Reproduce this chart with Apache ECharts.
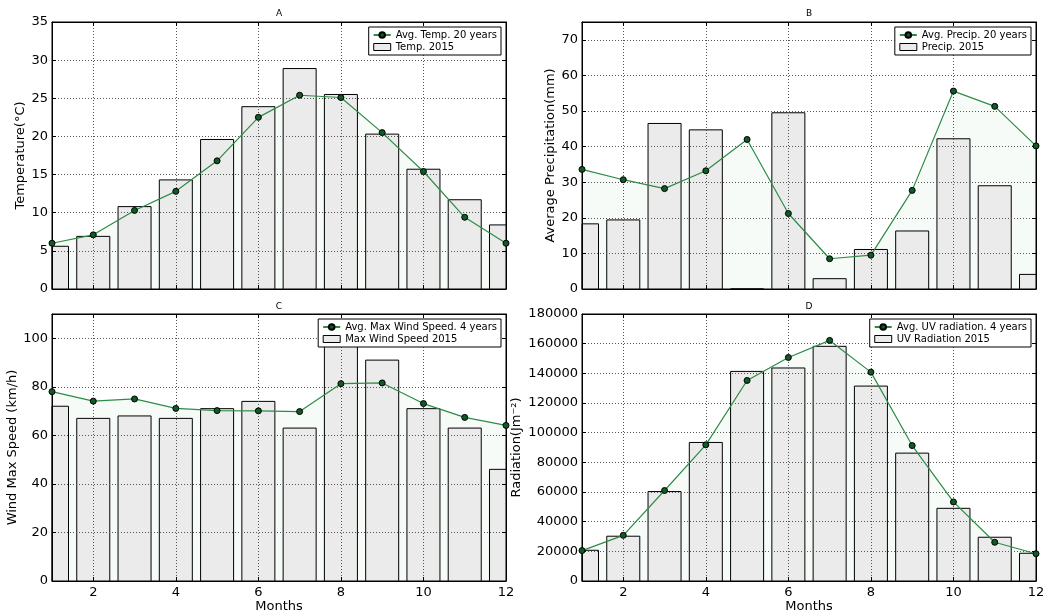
<!DOCTYPE html>
<html><head><meta charset="utf-8">
<script src="https://cdn.jsdelivr.net/npm/echarts@6/dist/echarts.min.js"></script>
<style>html,body{margin:0;padding:0;background:#fff}#c{width:1048px;height:616px}</style>
</head><body><div id="c"></div>
<script>
const months = [1,2,3,4,5,6,7,8,9,10,11,12];
const xTicks = [2,4,6,8,10,12];
const panelTitles = ['A','B','C','D'];

const tempAvg  = [6.0,7.1,10.3,12.8,16.8,22.5,25.4,25.1,20.5,15.4,9.4,6.0];
const temp2015 = [5.6,6.9,10.8,14.3,19.6,23.9,28.9,25.5,20.3,15.7,11.7,8.4];

const precipAvg  = [33.6,30.7,28.2,33.2,42.0,21.2,8.5,9.5,27.7,55.6,51.3,40.2];
const precip2015 = [18.3,19.4,46.5,44.7,0,49.5,2.9,11.1,16.3,42.2,29.0,4.1];

const windAvg  = [78.0,74.1,75.0,71.1,70.2,70.1,69.8,81.3,81.6,73.1,67.4,64.1];
const wind2015 = [72,67,68,67,71,74,63,100,91,71,63,46];

const uvAvg  = [20500,30800,61000,91800,135200,150700,162200,140800,91300,53300,26100,18400];
const uv2015 = [20700,30200,60300,93400,141300,143600,158200,131400,86200,49000,29500,18700];

const lineNames = ['Avg. Temp. 20 years','Avg. Precip. 20 years','Avg. Max Wind Speed. 4 years','Avg. UV radiation. 4 years'];
const barNames  = ['Temp. 2015','Precip. 2015','Max Wind Speed 2015','UV Radiation 2015'];
const yNames    = ['Temperature(°C)','Average Precipitation(mm)','Wind Max Speed (km/h)','Radiation(Jm⁻²)'];
const yMax      = [35,75,110,180000];
const yStep     = [5,10,20,20000];

const avgSets = [tempAvg, precipAvg, windAvg, uvAvg];
const barSets = [temp2015, precip2015, wind2015, uv2015];

const FONT = 'DejaVu Sans';
const BAR_HALF = 0.4;   // bar half-width in month units (matplotlib width 0.8)
const grids = [
  {left:52, right:542, top:22, bottom:327},
  {left:582, right:12, top:22, bottom:327},
  {left:52, right:542, top:314, bottom:35},
  {left:582, right:12, top:314, bottom:35}
];
const yNameGap = [22, 19, 28, 59];
const legendPos = [
  {right:547, top:27},{right:17, top:27},{right:547, top:319},{right:17, top:319}
];
const titlePos = [
  {left:279, top:9},{left:809, top:9},{left:279, top:302},{left:809, top:302}
];

const pair = arr => arr.map((v,i)=>[months[i], v]);

function renderBar(params, api){
  const x = api.value(0), y = api.value(1);
  const p0 = api.coord([x - BAR_HALF, y]);
  const p1 = api.coord([x + BAR_HALF, 0]);
  const rect = {x:p0[0], y:p0[1], width:p1[0]-p0[0], height:p1[1]-p0[1]};
  const cs = params.coordSys;
  const clipped = echarts.graphic.clipRectByRect(rect, {x:cs.x, y:cs.y, width:cs.width, height:cs.height});
  if (!clipped) return null;
  return {type:'rect', shape:clipped, style:{fill:'#ebebeb', stroke:'#000', lineWidth:1}};
}

const option = {
  animation:false,
  backgroundColor:'#fff',
  textStyle:{fontFamily:FONT},
  title: panelTitles.map((t,i)=>({text:t, left:titlePos[i].left, top:titlePos[i].top, textAlign:'center',
      textStyle:{fontSize:9, fontWeight:'normal', color:'#000', fontFamily:FONT}, padding:0})),
  grid: grids.map(g=>Object.assign({show:true, borderColor:'#000', borderWidth:1, backgroundColor:'transparent'}, g)),
  legend: panelTitles.map((t,i)=>({
    data:[{name:lineNames[i]},
          {name:barNames[i], icon:'rect', itemStyle:{color:'#ebebeb', borderColor:'#000', borderWidth:1}}],
    orient:'vertical', right:legendPos[i].right, top:legendPos[i].top,
    backgroundColor:'#fff', borderColor:'#000', borderWidth:1, borderRadius:0,
    padding:[3,4,3,4], itemGap:2, itemWidth:17, itemHeight:7, itemTextGap:8,
    textStyle:{fontSize:10, color:'#000', fontFamily:FONT}, z:20
  })),
  xAxis: [],
  yAxis: [],
  series: []
};

for (let i=0;i<4;i++){
  const bottomRow = i>=2;
  option.xAxis.push({
    gridIndex:i, type:'value', min:1, max:12, position:'bottom', z:4,
    axisLine:{show:true, onZero:false, lineStyle:{color:'#000', width:1}},
    axisTick:{show:true, inside:true, length:4, customValues:xTicks, lineStyle:{color:'#000'}},
    axisLabel:{show:bottomRow, customValues:xTicks, fontSize:13, color:'#000', margin:5, fontFamily:FONT},
    splitLine:{show:true, lineStyle:{color:'#555', type:[1,2], width:1}},
    name: bottomRow ? 'Months' : '', nameLocation:'middle', nameGap:15,
    nameTextStyle:{fontSize:13, color:'#000', fontFamily:FONT}
  });
  option.yAxis.push({
    gridIndex:i, type:'value', min:0, max:yMax[i], interval:yStep[i], position:'left', z:4,
    axisLine:{show:true, onZero:false, lineStyle:{color:'#000', width:1}},
    axisTick:{show:true, inside:true, length:4, lineStyle:{color:'#000'}},
    axisLabel:{fontSize:13, color:'#000', margin:4, fontFamily:FONT, showMaxLabel: (yMax[i] % yStep[i] === 0),
      formatter: v => String(v)},
    splitLine:{show:true, lineStyle:{color:'#555', type:[1,2], width:1}},
    name: yNames[i], nameLocation:'middle', nameGap:yNameGap[i],
    nameTextStyle:{fontSize:13, color:'#000', fontFamily:FONT}
  });
}
for (let i=0;i<4;i++){
  option.xAxis.push({
    gridIndex:i, type:'value', min:1, max:12, position:'top', z:4,
    axisLine:{show:true, onZero:false, lineStyle:{color:'#000'}},
    axisTick:{show:true, inside:true, length:4, customValues:xTicks, lineStyle:{color:'#000'}},
    axisLabel:{show:false, customValues:xTicks}, splitLine:{show:false}
  });
  option.yAxis.push({
    gridIndex:i, type:'value', min:0, max:yMax[i], interval:yStep[i], position:'right', z:4,
    axisLine:{show:true, onZero:false, lineStyle:{color:'#000'}},
    axisTick:{show:true, inside:true, length:4, lineStyle:{color:'#000'}},
    axisLabel:{show:false}, splitLine:{show:false}
  });
}
for (let i=0;i<4;i++){
  option.series.push({
    type:'line', name:'fill'+i, xAxisIndex:i, yAxisIndex:i, data:pair(avgSets[i]),
    symbol:'none', lineStyle:{width:0}, areaStyle:{color:'rgba(60,170,90,0.06)'}, z:1, silent:true
  });
  option.series.push({
    type:'custom', name:barNames[i], xAxisIndex:i, yAxisIndex:i, data:pair(barSets[i]),
    encode:{x:0, y:1}, renderItem:renderBar,
    itemStyle:{color:'#ebebeb', borderColor:'#000', borderWidth:1}, z:2, silent:true
  });
  option.series.push({
    type:'line', name:lineNames[i], xAxisIndex:i, yAxisIndex:i, data:pair(avgSets[i]),
    symbol:'circle', symbolSize:6, showSymbol:true,
    lineStyle:{color:'#2e8b47', width:1.2},
    itemStyle:{color:'#0f5a25', borderColor:'#000', borderWidth:1}, z:5
  });
}

const chart = echarts.init(document.getElementById('c'), null, {renderer:'canvas'});
chart.setOption(option);
</script>
</body></html>
